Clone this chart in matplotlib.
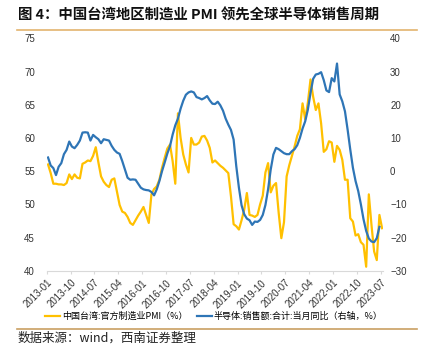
import numpy as np
import matplotlib.pyplot as plt
from matplotlib.lines import Line2D

plt.rcParams['font.family'] = ['Noto Sans CJK SC', 'DejaVu Sans']

# ---- data (monthly, 2013-01 .. 2023-07) ----
# Taiwan official manufacturing PMI (left axis)
pmi = [
    56.0, 54.7, 53.1, 53.1, 53.0, 53.0, 52.9, 53.2, 54.5, 53.8,
    54.5, 54.0, 53.9, 56.1, 56.3, 56.6, 56.5, 57.3, 58.6, 56.3,
    54.2, 53.4, 52.9, 52.6, 53.7, 53.9, 51.9, 49.9, 48.9, 48.7,
    48.1, 47.2, 46.9, 47.6, 48.3, 48.9, 49.6, 48.4, 47.2, 51.5,
    52.3, 52.7, 53.7, 55.5, 57.0, 58.4, 59.0, 56.5, 53.1, 63.7,
    60.0, 57.5, 56.0, 54.8, 60.0, 59.0, 59.0, 59.3, 60.2, 60.3,
    59.6, 58.5, 56.3, 56.6, 56.2, 55.8, 55.5, 55.1, 54.7, 51.2,
    47.0, 46.7, 46.2, 47.6, 49.2, 51.7, 48.4, 48.3, 48.1, 48.4,
    50.0, 51.3, 54.8, 56.2, 51.8, 52.8, 53.2, 48.7, 44.9, 47.3,
    54.2, 55.9, 57.3, 58.7, 60.3, 61.3, 65.2, 62.8, 65.3, 68.8,
    66.2, 64.2, 65.2, 62.2, 57.9, 58.3, 59.5, 59.3, 56.4, 58.8,
    58.2, 56.7, 53.7, 53.7, 47.9, 47.4, 45.3, 45.5, 44.3, 43.9,
    40.6, 51.5, 46.9, 42.9, 41.6, 48.4, 46.4,
]

# global semiconductor sales, YoY % (right axis), last month not yet out
semi = [
    4.1, 1.7, 0.9, -1.2, 1.3, 2.4, 5.1, 6.4, 8.9, 7.4,
    6.9, 7.9, 9.2, 11.6, 11.7, 11.6, 9.2, 10.9, 10.2, 9.6,
    8.4, 9.6, 9.4, 9.2, 7.6, 6.4, 5.6, 5.2, 3.0, 0.5,
    -2.0, -2.6, -2.5, -2.6, -3.8, -5.0, -5.5, -5.7, -5.8, -6.3,
    -7.3, -5.5, -3.0, 0.0, 2.6, 5.3, 7.5, 11.0, 13.8, 15.8,
    18.8, 21.2, 23.0, 23.7, 24.0, 23.7, 22.3, 22.0, 21.6, 22.0,
    22.6, 21.3, 20.3, 20.2, 20.9, 19.8, 18.2, 15.8, 14.0, 12.4,
    9.5, 1.5, -5.0, -10.3, -13.0, -14.3, -14.8, -16.2, -15.2, -15.3,
    -14.7, -13.2, -10.2, -5.5, 0.5, 5.0, 7.0, 6.6, 6.0, 5.4,
    5.1, 5.1, 6.0, 6.6, 7.8, 10.0, 12.8, 15.0, 18.5, 23.5,
    27.8, 29.1, 29.3, 29.8, 27.4, 24.3, 23.8, 28.0, 27.0, 32.4,
    23.1, 21.0, 18.0, 12.5, 6.5, 1.0, -3.0, -6.0, -10.0, -14.5,
    -18.0, -20.3, -21.2, -21.4, -20.2, -16.8, np.nan,
]

tickLabels = [
    "2013-01", "2013-10", "2014-07", "2015-04", "2016-01", "2016-10",
    "2017-07", "2018-04", "2019-01", "2019-10", "2020-07", "2021-04",
    "2022-01", "2022-10", "2023-07",
]

legendLabels = ["中国台湾:官方制造业PMI（%）", "半导体:销售额:合计:当月同比（右轴，%）"]

yellow = '#FFC000'
blue = '#2E75B6'

fig = plt.figure(figsize=(4.27, 3.46), dpi=100)
ax = fig.add_axes([0.1094, 0.2176, 0.7885, 0.6717])
ax2 = ax.twinx()

x = np.arange(len(pmi))
ax.plot(x, pmi, color=yellow, lw=1.6, solid_joinstyle='round')
ax2.plot(x, semi, color=blue, lw=1.6, solid_joinstyle='round')

ax.set_xlim(-0.5, len(pmi) - 0.5)
ax.set_ylim(40, 75)
ax2.set_ylim(-30, 40)
ax.set_yticks(range(40, 76, 5))
ax2.set_yticks(range(-30, 41, 10))

ax.set_xticks(np.arange(0, len(pmi), 9) - 0.5)
ax.set_xticklabels(tickLabels, rotation=45, ha='right', va='top',
                   rotation_mode='anchor')

for a in (ax, ax2):
    for s in a.spines.values():
        s.set_visible(False)
ax.spines['bottom'].set_visible(True)
ax.spines['bottom'].set_color('#D9D9D9')

for lab in ax.get_xticklabels() + ax.get_yticklabels() + ax2.get_yticklabels():
    lab.set_fontfamily('Liberation Sans')
    lab.set_fontsize(7)
    lab.set_color('#333333')

ax.tick_params(axis='y', length=0, pad=8.4)
ax2.tick_params(axis='y', length=0, pad=4.8)
ax.tick_params(axis='x', length=2, color='#D9D9D9', pad=3)

# legend below the plot
handles = [Line2D([], [], color=yellow, lw=1.6), Line2D([], [], color=blue, lw=1.6)]
fig.legend(handles, legendLabels, loc='center', bbox_to_anchor=(0.501, 0.0847),
           ncol=2, frameon=False, fontsize=6.5, handlelength=1.7,
           handletextpad=0.2, columnspacing=1.0)

# title, rules and source note
fig.text(0.042, 0.954, "图 4：中国台湾地区制造业 PMI 领先全球半导体销售周期",
         fontsize=10.4, fontweight='bold', ha='left', va='center', color='#111111')
fig.add_artist(Line2D([0.0398, 0.9766], [0.9147, 0.9147], color='#E3B46E', lw=1.2))
fig.add_artist(Line2D([0.0398, 0.9766], [0.0491, 0.0491], color='#C9A062', lw=1.2))
fig.text(0.04, 0.0217, "数据来源：wind，西南证券整理", fontsize=9, style='italic',
         ha='left', va='center', color='#222222')

fig.savefig('out.png', dpi=100)
